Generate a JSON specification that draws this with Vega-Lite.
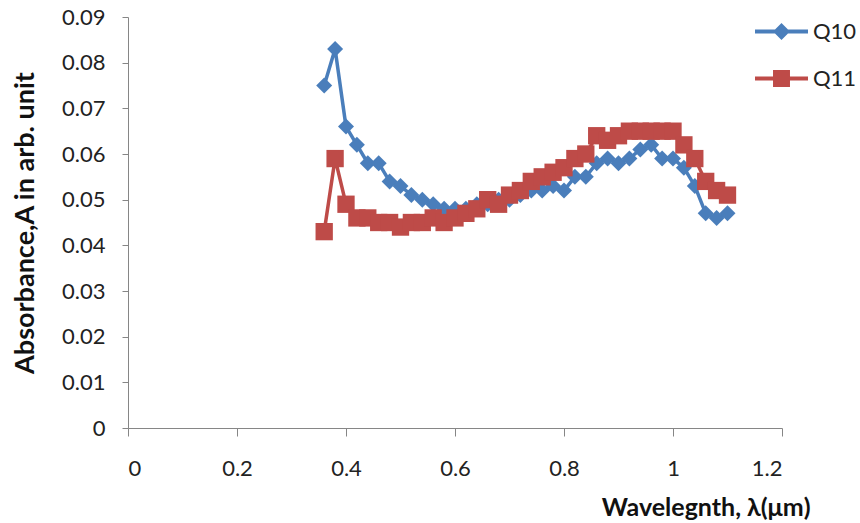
{
  "$schema": "https://vega.github.io/schema/vega-lite/v6.json",
  "width": 654,
  "height": 411,
  "autosize": {"type": "none"},
  "padding": {"left": 128, "top": 17, "right": 78, "bottom": 95},
  "background": "white",
  "config": {
    "view": {"stroke": null},
    "font": "Lato",
    "axis": {
      "grid": false,
      "domainColor": "#868686",
      "tickColor": "#868686",
      "labelColor": "#222222",
      "titleColor": "#111111",
      "labelFont": "Lato",
      "labelFontSize": 22,
      "titleFont": "Lato",
      "titleFontWeight": "bold",
      "titleFontSize": 25
    }
  },
  "data": {
    "values": [
      {"x": 0.36, "y": 0.075, "s": "Q10"},
      {"x": 0.38, "y": 0.083, "s": "Q10"},
      {"x": 0.40, "y": 0.066, "s": "Q10"},
      {"x": 0.42, "y": 0.062, "s": "Q10"},
      {"x": 0.44, "y": 0.058, "s": "Q10"},
      {"x": 0.46, "y": 0.058, "s": "Q10"},
      {"x": 0.48, "y": 0.054, "s": "Q10"},
      {"x": 0.50, "y": 0.053, "s": "Q10"},
      {"x": 0.52, "y": 0.051, "s": "Q10"},
      {"x": 0.54, "y": 0.050, "s": "Q10"},
      {"x": 0.56, "y": 0.049, "s": "Q10"},
      {"x": 0.58, "y": 0.048, "s": "Q10"},
      {"x": 0.60, "y": 0.048, "s": "Q10"},
      {"x": 0.62, "y": 0.048, "s": "Q10"},
      {"x": 0.64, "y": 0.049, "s": "Q10"},
      {"x": 0.66, "y": 0.049, "s": "Q10"},
      {"x": 0.68, "y": 0.050, "s": "Q10"},
      {"x": 0.70, "y": 0.050, "s": "Q10"},
      {"x": 0.72, "y": 0.051, "s": "Q10"},
      {"x": 0.74, "y": 0.052, "s": "Q10"},
      {"x": 0.76, "y": 0.052, "s": "Q10"},
      {"x": 0.78, "y": 0.053, "s": "Q10"},
      {"x": 0.80, "y": 0.052, "s": "Q10"},
      {"x": 0.82, "y": 0.055, "s": "Q10"},
      {"x": 0.84, "y": 0.055, "s": "Q10"},
      {"x": 0.86, "y": 0.058, "s": "Q10"},
      {"x": 0.88, "y": 0.059, "s": "Q10"},
      {"x": 0.90, "y": 0.058, "s": "Q10"},
      {"x": 0.92, "y": 0.059, "s": "Q10"},
      {"x": 0.94, "y": 0.061, "s": "Q10"},
      {"x": 0.96, "y": 0.062, "s": "Q10"},
      {"x": 0.98, "y": 0.059, "s": "Q10"},
      {"x": 1.00, "y": 0.059, "s": "Q10"},
      {"x": 1.02, "y": 0.057, "s": "Q10"},
      {"x": 1.04, "y": 0.053, "s": "Q10"},
      {"x": 1.06, "y": 0.047, "s": "Q10"},
      {"x": 1.08, "y": 0.046, "s": "Q10"},
      {"x": 1.10, "y": 0.047, "s": "Q10"},
      {"x": 0.36, "y": 0.043, "s": "Q11"},
      {"x": 0.38, "y": 0.059, "s": "Q11"},
      {"x": 0.40, "y": 0.049, "s": "Q11"},
      {"x": 0.42, "y": 0.046, "s": "Q11"},
      {"x": 0.44, "y": 0.046, "s": "Q11"},
      {"x": 0.46, "y": 0.045, "s": "Q11"},
      {"x": 0.48, "y": 0.045, "s": "Q11"},
      {"x": 0.50, "y": 0.044, "s": "Q11"},
      {"x": 0.52, "y": 0.045, "s": "Q11"},
      {"x": 0.54, "y": 0.045, "s": "Q11"},
      {"x": 0.56, "y": 0.046, "s": "Q11"},
      {"x": 0.58, "y": 0.045, "s": "Q11"},
      {"x": 0.60, "y": 0.046, "s": "Q11"},
      {"x": 0.62, "y": 0.047, "s": "Q11"},
      {"x": 0.64, "y": 0.048, "s": "Q11"},
      {"x": 0.66, "y": 0.050, "s": "Q11"},
      {"x": 0.68, "y": 0.049, "s": "Q11"},
      {"x": 0.70, "y": 0.051, "s": "Q11"},
      {"x": 0.72, "y": 0.052, "s": "Q11"},
      {"x": 0.74, "y": 0.054, "s": "Q11"},
      {"x": 0.76, "y": 0.055, "s": "Q11"},
      {"x": 0.78, "y": 0.056, "s": "Q11"},
      {"x": 0.80, "y": 0.057, "s": "Q11"},
      {"x": 0.82, "y": 0.059, "s": "Q11"},
      {"x": 0.84, "y": 0.060, "s": "Q11"},
      {"x": 0.86, "y": 0.064, "s": "Q11"},
      {"x": 0.88, "y": 0.063, "s": "Q11"},
      {"x": 0.90, "y": 0.064, "s": "Q11"},
      {"x": 0.92, "y": 0.065, "s": "Q11"},
      {"x": 0.94, "y": 0.065, "s": "Q11"},
      {"x": 0.96, "y": 0.065, "s": "Q11"},
      {"x": 0.98, "y": 0.065, "s": "Q11"},
      {"x": 1.00, "y": 0.065, "s": "Q11"},
      {"x": 1.02, "y": 0.062, "s": "Q11"},
      {"x": 1.04, "y": 0.059, "s": "Q11"},
      {"x": 1.06, "y": 0.054, "s": "Q11"},
      {"x": 1.08, "y": 0.052, "s": "Q11"},
      {"x": 1.10, "y": 0.051, "s": "Q11"}
    ]
  },
  "encoding": {
    "x": {
      "field": "x",
      "type": "quantitative",
      "scale": {"domain": [0, 1.2], "nice": false, "zero": false},
      "axis": {
        "values": [0, 0.2, 0.4, 0.6, 0.8, 1, 1.2],
        "labelExpr": "format(datum.value, '~g')",
        "tickSize": 8,
        "labelPadding": 22,
        "title": "Wavelegnth, λ(μm)",
        "titleAnchor": null,
        "titleAlign": "right",
        "titleBaseline": "middle",
        "titleX": 682,
        "titleY": 79
      }
    },
    "y": {
      "field": "y",
      "type": "quantitative",
      "scale": {"domain": [0, 0.09], "nice": false},
      "axis": {
        "values": [0, 0.01, 0.02, 0.03, 0.04, 0.05, 0.06, 0.07, 0.08, 0.09],
        "labelExpr": "datum.value == 0 ? '0' : format(datum.value, '.2f')",
        "tickSize": 6,
        "labelPadding": 17,
        "title": "Absorbance,A in arb. unit",
        "titleFontSize": 27,
        "titlePadding": 22
      }
    },
    "color": {
      "field": "s",
      "type": "nominal",
      "scale": {"domain": ["Q10", "Q11"], "range": ["#4A7EBB", "#BE4B48"]},
      "legend": {
        "title": null,
        "orient": "none",
        "legendX": 627,
        "legendY": -12,
        "padding": 0,
        "symbolSize": 2809,
        "symbolStrokeWidth": 0,
        "symbolOpacity": 1,
        "rowPadding": 9,
        "labelFont": "Lato",
        "labelFontSize": 22,
        "labelColor": "#222222",
        "labelOffset": 5,
        "encode": {
          "symbols": {
            "update": {
              "shape": {"signal": "datum.value === 'Q10' ? 'M-1,-0.08L1,-0.08L1,0.08L-1,0.08Z M-0.32,0L0,-0.32L0.32,0L0,0.32Z' : 'M-1,-0.08L1,-0.08L1,0.08L-1,0.08Z M-0.32,-0.32L0.32,-0.32L0.32,0.32L-0.32,0.32Z'"}
            }
          }
        }
      }
    }
  },
  "layer": [
    {
      "mark": {"type": "line", "strokeWidth": 3.5}
    },
    {
      "transform": [{"filter": "datum.s === 'Q10'"}],
      "mark": {"type": "point", "shape": "diamond", "size": 256, "filled": true, "opacity": 1}
    },
    {
      "transform": [{"filter": "datum.s === 'Q11'"}],
      "mark": {"type": "point", "shape": "square", "size": 300, "filled": true, "opacity": 1}
    }
  ]
}
